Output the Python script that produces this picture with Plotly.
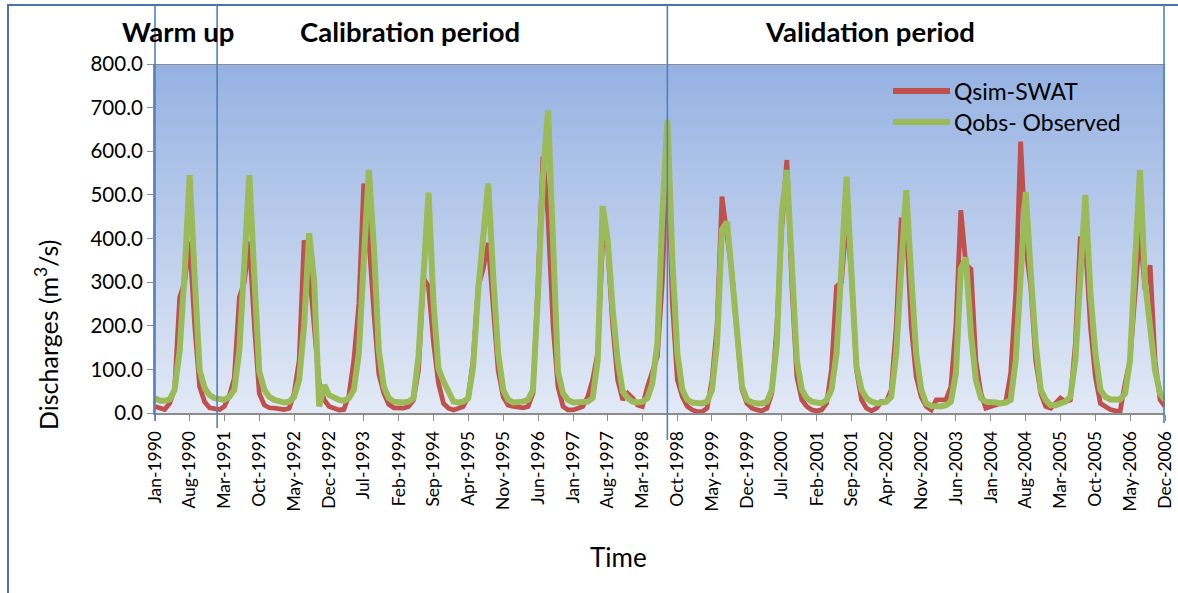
import pandas as pd
import plotly.graph_objects as go

# Monthly series, Jan-1990 .. Dec-2006
months = pd.date_range("1990-01-01", "2006-12-01", freq="MS")

# Simulated discharge (m3/s), one row per year
q_sim = [
    15, 11, 8, 22, 55, 265, 300, 393, 200, 60, 25, 12,        # 1990
    11, 8, 15, 40, 80, 265, 300, 393, 200, 45, 18, 12,        # 1991
    11, 8, 8, 11, 45, 121, 396, 330, 200, 70, 30, 15,         # 1992
    11, 7, 8, 40, 120, 250, 526, 400, 230, 90, 45, 20,        # 1993
    12, 12, 11, 15, 30, 99, 309, 290, 160, 68, 22, 11,        # 1994
    7, 11, 15, 37, 121, 290, 330, 390, 228, 98, 37, 18,       # 1995
    15, 12, 12, 15, 45, 300, 588, 450, 200, 60, 15, 7,        # 1996
    7, 11, 15, 37, 76, 137, 396, 381, 198, 76, 30, 45,        # 1997
    34, 18, 15, 60, 98, 130, 300, 600, 250, 76, 37, 15,       # 1998
    7, 3, 3, 11, 76, 198, 496, 412, 320, 183, 53, 22,         # 1999
    11, 7, 5, 11, 45, 198, 427, 580, 290, 83, 30, 15,         # 2000
    7, 5, 7, 22, 100, 290, 300, 450, 312, 98, 30, 11,         # 2001
    5, 11, 26, 26, 53, 198, 442, 440, 198, 83, 37, 15,        # 2002
    7, 30, 31, 30, 60, 200, 465, 340, 330, 120, 45, 11,       # 2003
    15, 18, 22, 26, 91, 274, 622, 380, 290, 121, 45, 15,      # 2004
    11, 22, 34, 26, 30, 160, 404, 390, 198, 83, 22, 15,       # 2005
    8, 5, 3, 68, 121, 274, 420, 282, 339, 121, 30, 15,        # 2006
]

# Observed discharge (m3/s)
q_obs = [
    34, 28, 28, 31, 53, 144, 320, 545, 310, 98, 57, 41,       # 1990
    34, 30, 30, 37, 53, 144, 320, 545, 310, 95, 53, 37,       # 1991
    30, 26, 24, 26, 37, 76, 200, 412, 300, 15, 64, 41,        # 1992
    34, 30, 28, 34, 53, 137, 350, 557, 380, 144, 60, 34,      # 1993
    26, 24, 24, 26, 34, 130, 320, 505, 250, 102, 72, 45,      # 1994
    26, 24, 26, 34, 106, 282, 396, 526, 312, 137, 53, 30,     # 1995
    24, 24, 26, 30, 53, 274, 541, 693, 380, 95, 45, 30,       # 1996
    24, 24, 24, 26, 34, 121, 474, 396, 236, 121, 49, 34,      # 1997
    26, 24, 26, 34, 68, 160, 450, 672, 350, 137, 53, 30,      # 1998
    24, 22, 22, 26, 53, 160, 420, 438, 312, 160, 60, 30,      # 1999
    24, 22, 22, 26, 53, 160, 458, 557, 320, 121, 53, 34,      # 2000
    26, 24, 22, 30, 53, 137, 312, 542, 312, 106, 53, 34,      # 2001
    26, 22, 24, 26, 37, 137, 330, 511, 312, 137, 53, 22,      # 2002
    16, 15, 15, 18, 26, 91, 330, 356, 183, 76, 34, 26,        # 2003
    26, 24, 22, 24, 30, 121, 312, 507, 320, 160, 53, 30,      # 2004
    18, 18, 22, 26, 37, 121, 312, 500, 274, 137, 53, 37,      # 2005
    31, 30, 31, 45, 121, 350, 557, 300, 198, 98, 45, 30,      # 2006
]

tick_labels = [
    "Jan-1990", "Aug-1990", "Mar-1991", "Oct-1991", "May-1992", "Dec-1992",
    "Jul-1993", "Feb-1994", "Sep-1994", "Apr-1995", "Nov-1995", "Jun-1996",
    "Jan-1997", "Aug-1997", "Mar-1998", "Oct-1998", "May-1999", "Dec-1999",
    "Jul-2000", "Feb-2001", "Sep-2001", "Apr-2002", "Nov-2002", "Jun-2003",
    "Jan-2004", "Aug-2004", "Mar-2005", "Oct-2005", "May-2006", "Dec-2006",
]
tick_dates = months[::7]

# Period separators (inner ones between the periods) and headings
period_breaks = ["1991-01-16", "1998-08-01"]
period_names = ["Warm up", "Calibration period", "Validation period"]

series_names = ["Qsim-SWAT", "Qobs- Observed"]
RED, GREEN = "#C0504D", "#9BBB59"
FONT = "Lato, 'Noto Sans', sans-serif"

W_FIG, H_FIG = 1178, 593
L, R, T, B = 155, 13, 64, 180
PW, PH = W_FIG - L - R, H_FIG - T - B


def px(x):
    return (x - L) / PW


def py(y):
    return (H_FIG - B - y) / PH


fig = go.Figure()
fig.add_trace(go.Scatter(x=months, y=q_sim, mode="lines", name=series_names[0],
                         line=dict(color=RED, width=4.8), showlegend=False))
fig.add_trace(go.Scatter(x=months, y=q_obs, mode="lines", name=series_names[1],
                         line=dict(color=GREEN, width=6), showlegend=False))

shapes = []
# vertical gradient for the plot area (overlapping bands, no seams)
n_bands = 70
top_c, bot_c = (150, 178, 226), (226, 233, 246)
for k in range(n_bands):
    f = k / (n_bands - 1)
    c = tuple(round(top_c[j] + (bot_c[j] - top_c[j]) * f) for j in range(3))
    y_hi = 1 - k / n_bands
    y_lo = max(0.0, 1 - (k + 1) / n_bands - 0.01)
    shapes.append(dict(type="rect", xref="paper", yref="paper", layer="below",
                       x0=0, x1=1, y0=y_lo, y1=y_hi,
                       line=dict(width=0), fillcolor="rgb(%d,%d,%d)" % c))
# top border of the plot area
shapes.append(dict(type="line", xref="paper", yref="y", x0=0, x1=1, y0=800, y1=800,
                   line=dict(color="#8C8C8C", width=2), layer="above"))
# outer chart frame
shapes.append(dict(type="rect", xref="paper", yref="paper",
                   x0=px(8), x1=px(1190), y0=py(605), y1=py(5),
                   line=dict(color="#4E71A6", width=2), layer="above"))
# period separator lines: the two plot edges and the two inner breaks
for xe, yb in [(155, 421), (1164, 423)]:
    shapes.append(dict(type="line", xref="paper", yref="paper", x0=px(xe), x1=px(xe),
                       y0=py(yb), y1=py(5), line=dict(color="#4F81BD", width=1.6),
                       layer="above"))
for d, yb in zip(period_breaks, [428, 440]):
    shapes.append(dict(type="line", xref="x", yref="paper", x0=d, x1=d,
                       y0=py(yb), y1=py(5), line=dict(color="#4F81BD", width=1.6),
                       layer="above"))
# legend samples
for k, col in enumerate([RED, GREEN]):
    yl = 91 + 31 * k
    shapes.append(dict(type="line", xref="paper", yref="paper",
                       x0=px(893), x1=px(950), y0=py(yl), y1=py(yl),
                       line=dict(color=col, width=6), layer="above"))

annotations = []
for name, xc in zip(period_names, [178, 410, 870]):
    annotations.append(dict(text="<b>%s</b>" % name, xref="paper", yref="paper",
                            x=px(xc), y=py(32), xanchor="center", yanchor="middle",
                            showarrow=False,
                            font=dict(size=27.5, color="black", family=FONT)))
for k, name in enumerate(series_names):
    annotations.append(dict(text=name, xref="paper", yref="paper", x=px(952),
                            y=py(91 + 31 * k), xanchor="left", yanchor="middle",
                            showarrow=False,
                            font=dict(size=23, color="black", family=FONT)))
annotations.append(dict(text="Discharges (m<sup>3</sup>/s)", xref="paper", yref="paper",
                        x=px(46), y=py(335), xanchor="center", yanchor="middle",
                        textangle=-90, showarrow=False,
                        font=dict(size=25, color="black", family=FONT)))
annotations.append(dict(text="Time", xref="paper", yref="paper", x=px(618), y=py(557),
                        xanchor="center", yanchor="middle", showarrow=False,
                        font=dict(size=26, color="black", family=FONT)))

fig.update_layout(
    width=W_FIG, height=H_FIG,
    margin=dict(l=L, r=R, t=T, b=B, pad=0, autoexpand=False),
    paper_bgcolor="white", plot_bgcolor="rgba(0,0,0,0)",
    shapes=shapes, annotations=annotations,
    showlegend=False,
    font=dict(family=FONT, color="black"),
)
fig.update_xaxes(
    range=[months[0], months[-1]], tickmode="array", tickvals=tick_dates,
    ticktext=tick_labels, tickangle=-90, tickfont=dict(size=17.5),
    showgrid=False, showline=True, linecolor="#8C8C8C", linewidth=2,
    ticks="outside", ticklen=6, tickcolor="#8C8C8C", zeroline=False,
    automargin=False, ticklabelstandoff=3,
)
fig.update_yaxes(
    range=[0, 800], tickvals=[0, 100, 200, 300, 400, 500, 600, 700, 800],
    tickformat=".1f", ticksuffix="\u2007", tickfont=dict(size=20.5),
    showgrid=False, showline=True, linecolor="#8C8C8C", linewidth=2,
    ticks="outside", ticklen=6, tickcolor="#8C8C8C", zeroline=False,
    automargin=False,
)

fig.write_html("out.html")
